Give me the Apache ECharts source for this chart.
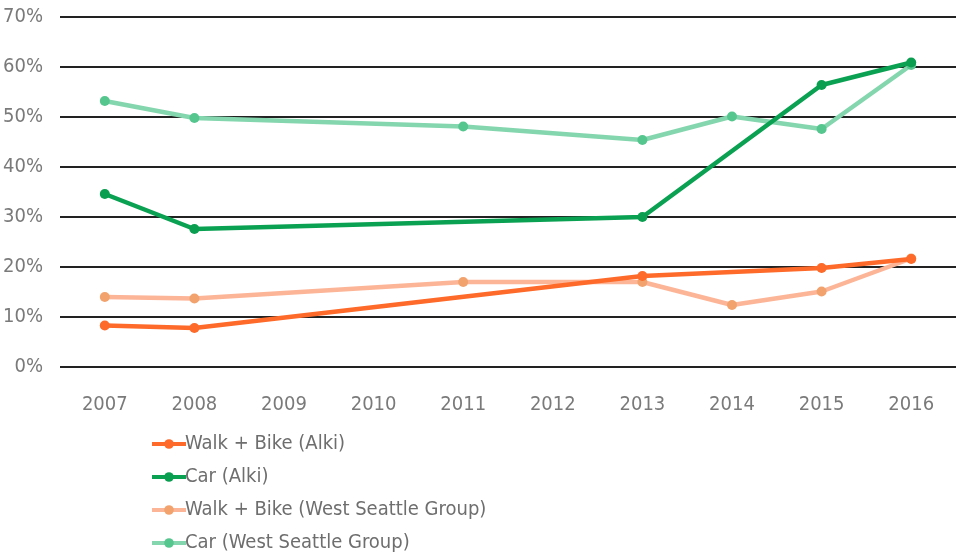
<!DOCTYPE html>
<html><head><meta charset="utf-8">
<script src="https://cdn.jsdelivr.net/npm/echarts@6/dist/echarts.min.js"></script>
<style>html,body{margin:0;padding:0;background:#fff}#c{width:956px;height:554px}</style>
</head><body><div id="c"></div>
<script>
const years = ['2007','2008','2009','2010','2011','2012','2013','2014','2015','2016'];
const walkBikeAlki = [8.3, 7.8, null, null, null, null, 18.2, null, 19.8, 21.6];
const carAlki = [34.6, 27.6, null, null, null, null, 30.0, null, 56.4, 60.9];
const walkBikeWSG = [14.0, 13.7, null, null, 17.0, null, 17.0, 12.4, 15.1, 21.7];
const carWSG = [53.2, 49.8, null, null, 48.1, null, 45.4, 50.1, 47.6, 60.4];
const seriesNames = ['Walk + Bike (Alki)', 'Car (Alki)', 'Walk + Bike (West Seattle Group)', 'Car (West Seattle Group)'];

const font = '"Liberation Sans Narrow", "DejaVu Sans Condensed", "Roboto", sans-serif';
function mk(name, data, lineColor, markColor, z) {
  return {
    name, type: 'line', data, connectNulls: true, z,
    symbol: 'circle', symbolSize: 10,
    lineStyle: { color: lineColor, width: 4.5 },
    itemStyle: { color: markColor },
    color: lineColor
  };
}
const chart = echarts.init(document.getElementById('c'));
chart.setOption({
  animation: false,
  grid: { left: 60, top: 17, width: 903, bottom: 187, containLabel: false },
  xAxis: {
    type: 'category', data: years, boundaryGap: true,
    axisLine: { show: false }, axisTick: { show: false },
    axisLabel: { color: '#7a7a7a', fontSize: 20, fontFamily: font, margin: 28 }
  },
  yAxis: {
    type: 'value', min: 0, max: 70, interval: 10,
    axisLabel: { formatter: '{value}%', color: '#7a7a7a', fontSize: 20, fontFamily: font, margin: 17 },
    splitLine: { lineStyle: { color: '#222', width: 2 } },
    axisLine: { show: false }, axisTick: { show: false }
  },
  legend: {
    orient: 'vertical', left: 145, top: 429, height: 140, itemWidth: 34, itemHeight: 12, itemGap: 13,
    lineStyle: { width: 4 },
    textStyle: { color: '#6e6e6e', fontSize: 20, fontFamily: font, padding: [0,0,0,-6] },
    data: seriesNames
  },
  series: [
    mk(seriesNames[3], carWSG, '#84d6ae', '#56c68f', 1),
    mk(seriesNames[2], walkBikeWSG, '#fdb598', '#f2a36d', 2),
    mk(seriesNames[1], carAlki, '#0aa152', '#0a9e50', 3),
    mk(seriesNames[0], walkBikeAlki, '#fd6a2a', '#fd6a2a', 4)
  ]
});
</script></body></html>
